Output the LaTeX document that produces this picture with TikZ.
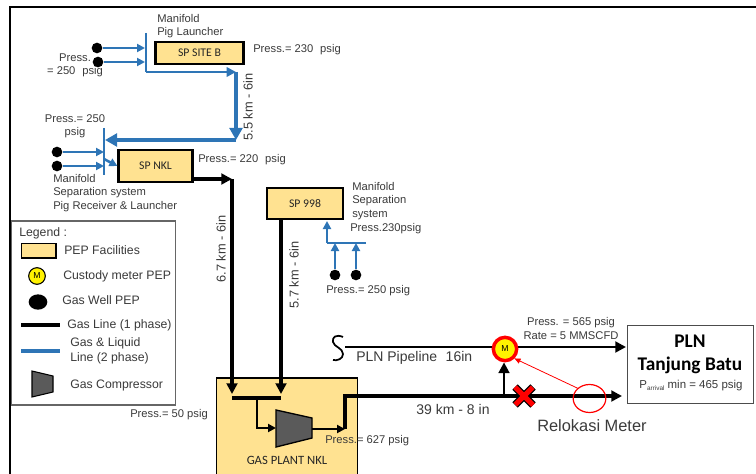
\documentclass[tikz,border=0pt]{standalone}
\usepackage{fontspec}
\setmainfont{Liberation Sans}
\newfontfamily\carl{Carlito}
\usetikzlibrary{arrows.meta,shapes.geometric}
\definecolor{pepfill}{HTML}{FFE291}
\definecolor{pipeblue}{HTML}{2E75B6}
\definecolor{txtgray}{HTML}{3A3A3A}
\definecolor{compgray}{HTML}{5A5A5A}
\tikzset{
 lbl/.style={inner sep=0pt,font=\fontsize{8.4}{9.9}\selectfont,text=txtgray},
 lft/.style={lbl,anchor=west},
 leglbl/.style={lft,font=\fontsize{9.2}{11.2}\selectfont},
 rotlbl/.style={lbl,rotate=90,font=\fontsize{9.6}{11}\selectfont},
 facility/.style={draw=black,line width=1.6pt,fill=pepfill,inner sep=0pt,font=\carl\fontsize{8.8}{10}\selectfont,text=black!85},
 well/.style={circle,fill=black,inner sep=0pt,minimum size=8pt},
 blueln/.style={draw=pipeblue,line width=1.9pt},
 blueflow/.style={blueln,-{Triangle[length=6pt,width=6pt]}},
 bluethick/.style={draw=pipeblue,line width=3pt,-{Triangle[length=9pt,width=9.5pt]}},
 blackln/.style={draw=black,line width=2.4pt},
 blackflow/.style={blackln,-{Triangle[length=8pt,width=8pt]}},
 blackthin/.style={draw=black,line width=1.7pt,-{Triangle[length=6pt,width=6pt]}},
 meter/.style={circle,fill=yellow,draw=black,line width=.8pt,inner sep=0pt,font=\fontsize{6.5}{7}\selectfont},
}
\begin{document}
\begin{tikzpicture}[x=0.75pt,y=-0.75pt]
\useasboundingbox (0,0) rectangle (756,474);
% frame
\coordinate (fbl) at (10,474); \coordinate (ftl) at (10,7); \coordinate (ftr) at (756,7);
\draw[black,line width=1.6pt] (fbl) -- (ftl) -- (ftr);
% gas plant
\node[draw=black,line width=1pt,fill=pepfill,minimum width=105.5pt,minimum height=76pt,inner sep=0pt] (plant) at (287,428.5) {};
% facilities
\node[facility,minimum width=66pt,minimum height=16.5pt] (siteb) at (199.5,53) {SP SITE B};
\node[facility,minimum width=55.5pt,minimum height=23.5pt] (nkl) at (155.5,166) {SP NKL};
\node[facility,minimum width=56.5pt,minimum height=23pt] (s998) at (305,203.5) {SP 998};
% site B group
\node[well] (w1) at (97,48) {}; \node[well] (w2) at (98,62) {};
\coordinate (mbt) at (146,33); \coordinate (mbb) at (146,72); \coordinate (mb1) at (145,48); \coordinate (mb2) at (145,62);
\coordinate (c1) at (236,72); \coordinate (c2) at (236,140); \coordinate (mnh) at (105,140);
\draw[blueln] (mbt) -- (mbb);
\draw[blueflow] (w1) -- (mb1);
\draw[blueflow] (w2) -- (mb2);
\draw[blueflow,line width=2.2pt,-{Triangle[length=7pt,width=7pt]}] (mbb) -- (c1);
\draw[bluethick] (c1) -- (c2);
\draw[bluethick] (c2) -- (mnh);
% NKL group
\node[well] (w3) at (57,152) {}; \node[well] (w4) at (57,166) {};
\coordinate (mnt) at (104,128); \coordinate (mnb) at (104,175); \coordinate (mn1) at (104,152); \coordinate (mn2) at (104,166); \coordinate (mn3) at (104,159);
\draw[blueln] (mnt) -- (mnb);
\draw[blueflow] (w3) -- (mn1);
\draw[blueflow] (w4) -- (mn2);
\draw[blueflow] (mn3) -- (nkl.west);
% black gas lines
\coordinate (n1) at (232,179); \coordinate (n2) at (232,394);
\coordinate (s1) at (281,394); \coordinate (hl) at (232,398); \coordinate (hr) at (281,398);
\draw[blackflow] (nkl.east |- n1) -- (n1);
\draw[blackflow,line width=2.8pt] (n1) -- (n2);
\draw[blackflow,line width=2.8pt] (s1 |- s998.south) -- (s1);
\draw[blackln] (hl) -- (hr);
% compressor
\coordinate (ca) at (276,410); \coordinate (cb) at (312,418); \coordinate (cc) at (312,438); \coordinate (cd) at (276,447);
\draw[black,line width=1pt,fill=compgray] (ca) -- (cb) -- (cc) -- (cd) -- cycle;
\coordinate (t1) at (257,398); \coordinate (t2) at (257,428); \coordinate (t3) at (276,428);
\draw[blackthin] (t1) -- (t2) -- (t3);
\coordinate (o1) at (312,429); \coordinate (o2) at (345,429); \coordinate (o3) at (345,396); \coordinate (o4) at (622,396);
\draw[blackthin] (o1) -- (o2);
\draw[blackflow,line join=miter] (o2) -- (o3) -- (o4);
% 998 group
\node[well] (w5) at (335,275) {}; \node[well] (w6) at (356,275) {};
\coordinate (m9l) at (327,243); \coordinate (m9r) at (366,243); \coordinate (m9u) at (327,221);
\coordinate (m91) at (335,243); \coordinate (m92) at (356,243);
\draw[blueln] (m9r) -- (m9l);
\draw[blueflow] (m9l) -- (m9u);
\draw[blueflow] (w5) -- (m91);
\draw[blueflow] (w6) -- (m92);
% PLN pipeline
\node[draw=black!70,line width=.9pt,fill=white,minimum width=95pt,minimum height=59pt,inner sep=0pt] (pln) at (690.5,364.5) {};
\coordinate (p0) at (345,347); \coordinate (p1) at (626,347);
\coordinate (pm) at (505,347);
\draw[blackln,line width=2pt] (p0) -- (pm);
\draw[blackflow,line width=2pt] (pm) -- (p1);
\node[meter,draw=red,line width=2.6pt,minimum size=17.5pt] (meter) at (505,349) {M};
\coordinate (b0) at (504,396);
\draw[blackflow,line width=1.9pt] (b0) -- (meter.south -| b0);
\coordinate (sa) at (343,337); \coordinate (sd) at (333,360);
\draw[black,line width=1.3pt] (sa) .. controls (336,334) and (332,337) .. (333,342) .. controls (334,347) and (343,348) .. (343,354) .. controls (343,359) and (337,361) .. (sd);
% red X
\coordinate (x1) at (515,387); \coordinate (x2) at (533,405); \coordinate (x3) at (533,387); \coordinate (x4) at (515,405);
\draw[black,line width=5.8pt] (x1) -- (x2) (x3) -- (x4);
\draw[red,line width=3.8pt,shorten >=.3pt,shorten <=.3pt] (x1) -- (x2) (x3) -- (x4);
% relocation
\node[ellipse,draw=red,line width=.9pt,minimum width=24.5pt,minimum height=21pt,inner sep=0pt] (reloc) at (589.5,398.5) {};
\draw[red,line width=.6pt,-{Triangle[length=4.5pt,width=4pt]}] (reloc.north west) -- (meter.south east);
% labels
\node[lft,align=left] at (157,26) {Manifold\\Pig Launcher};
\node[lft] at (253,50) {Press.= 230\,\, psig};
\node[lbl,align=center] at (75,65) {Press.\\= 250\,\, psig};
\node[rotlbl] at (248,107) {5.5 km - 6in};
\node[lbl,align=center] at (75,126) {Press.= 250\\psig};
\node[lft] at (198,160) {Press.= 220\,\, psig};
\node[lft,align=left] at (53,193) {Manifold\\Separation system\\Pig Receiver \& Launcher};
\node[rotlbl] at (221,249) {6.7 km - 6in};
\node[rotlbl] at (294,275) {5.7 km - 6in};
\node[lft,align=left] at (352,201) {Manifold\\Separation\\system};
\node[lft] at (350,229) {Press.230psig};
\node[lft] at (326,291) {Press.= 250 psig};
\node[lft] at (130,415) {Press.= 50 psig};
\node[lft] at (325,441) {Press.= 627 psig};
\node[inner sep=0pt,font=\carl\fontsize{9.5}{11}\selectfont,text=black!85] at (287,460) {GAS PLANT NKL};
\node[lft,font=\fontsize{10.5}{12}\selectfont] at (356,358) {PLN Pipeline\,\, 16in};
\node[lbl,font=\fontsize{10.5}{12}\selectfont] at (453,409) {39 km - 8 in};
\node[lft,font=\fontsize{12.3}{14}\selectfont] at (537,426) {Relokasi Meter};
\node[lbl,align=center] at (571,328.5) {Press. = 565 psig\\Rate = 5 MMSCFD};
\node[inner sep=0pt,font=\carl\bfseries\fontsize{14.5}{17}\selectfont] at (690,341) {PLN};
\node[inner sep=0pt,font=\carl\bfseries\fontsize{14.5}{17}\selectfont] at (690,365) {Tanjung Batu};
\node[lbl,font=\fontsize{8.6}{10}\selectfont] at (691,386) {P{\fontsize{4.8}{5}\selectfont\raisebox{-1pt}{arrival}} min = 465 psig};
% legend
\node[draw=black!60,line width=.8pt,fill=white,minimum width=123.5pt,minimum height=138pt,inner sep=0pt] (leg) at (93.5,313) {};
\node[leglbl] at (19,233) {Legend :};
\node[facility,line width=1pt,minimum width=26pt,minimum height=11pt] (lfac) at (38.5,250.5) {};
\node[leglbl] at (64,250) {PEP Facilities};
\node[meter,minimum size=12.5pt] (lm) at (37,276) {M};
\node[leglbl] at (63,276) {Custody meter PEP};
\node[ellipse,fill=black,minimum width=14pt,minimum height=11.5pt,inner sep=0pt] (lw) at (38,302) {};
\node[leglbl] at (62,300) {Gas Well PEP};
\coordinate (lb1) at (21,325); \coordinate (lb2) at (60,325);
\draw[blackln] (lb1) -- (lb2);
\node[leglbl] at (67,325) {Gas Line (1 phase)};
\coordinate (lc1) at (21,351); \coordinate (lc2) at (60,351);
\draw[blueln,line width=2.4pt] (lc1) -- (lc2);
\node[leglbl,align=left] at (70,350.5) {Gas \& Liquid\\Line (2 phase)};
\coordinate (la) at (32,371); \coordinate (lb) at (53,376); \coordinate (lc) at (53,392); \coordinate (ld) at (32,397);
\draw[black,line width=.8pt,fill=compgray] (la) -- (lb) -- (lc) -- (ld) -- cycle;
\node[leglbl] at (70,385) {Gas Compressor};
\end{tikzpicture}
\end{document}
